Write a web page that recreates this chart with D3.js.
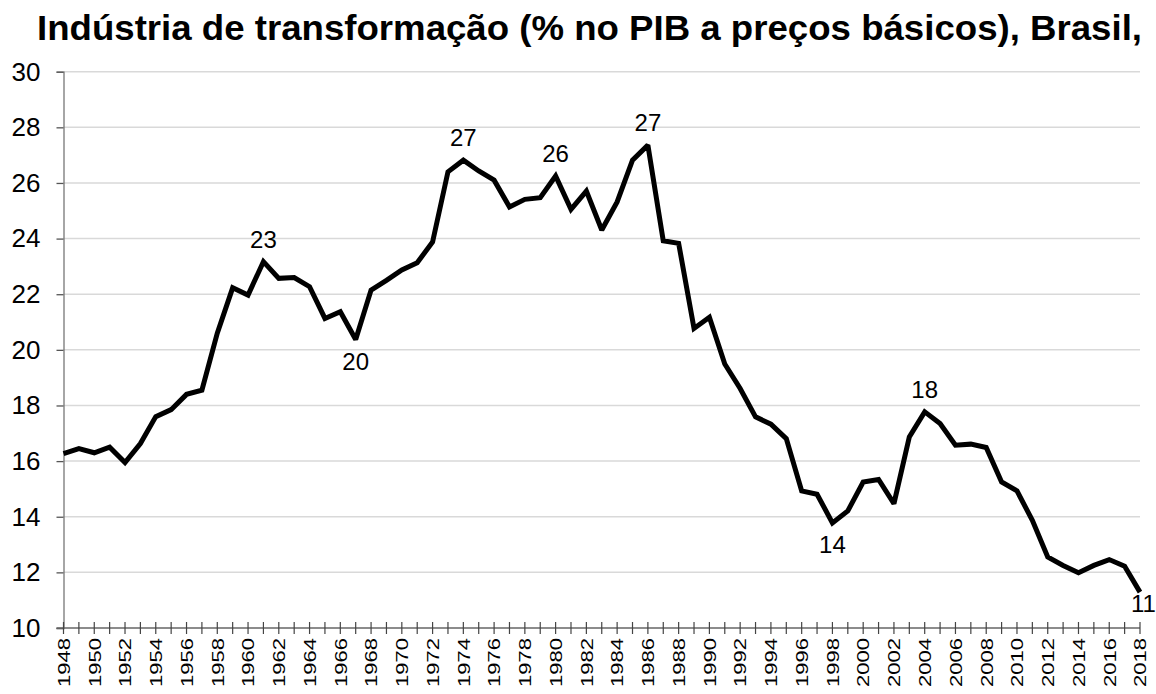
<!DOCTYPE html>
<html>
<head>
<meta charset="utf-8">
<script src="https://cdn.jsdelivr.net/npm/d3@7"></script>
<style>
  body { margin: 0; background: #fff; }
  svg { display: block; font-family: "Liberation Sans", Arial, sans-serif; }
</style>
</head>
<body>
<div id="chart"></div>
<script>
const years = d3.range(1948, 2019);
const share = [
  16.27, 16.45, 16.3, 16.5, 15.95, 16.63, 17.6, 17.85, 18.4, 18.55,
  20.6, 22.23, 21.97, 23.17, 22.57, 22.6, 22.27, 21.13, 21.37, 20.37,
  22.15, 22.5, 22.87, 23.13, 23.88, 26.4, 26.82, 26.43, 26.1, 25.14,
  25.41, 25.47, 26.25, 25.05, 25.71, 24.31, 25.32, 26.82, 27.36, 23.92,
  23.83, 20.77, 21.17, 19.49, 18.61, 17.59, 17.33, 16.81, 14.93, 14.81,
  13.78, 14.21, 15.25, 15.34, 14.47, 16.87, 17.77, 17.35, 16.57, 16.61,
  16.49, 15.25, 14.93, 13.87, 12.55, 12.25, 11.99, 12.25, 12.46, 12.22,
  11.29
];
const yTicks = [10, 12, 14, 16, 18, 20, 22, 24, 26, 28, 30];
// rounded values written next to the peaks and troughs
const callouts = [
  { year: 1961, text: "23", pos: "above" },
  { year: 1967, text: "20", pos: "below" },
  { year: 1974, text: "27", pos: "above" },
  { year: 1980, text: "26", pos: "above" },
  { year: 1986, text: "27", pos: "above" },
  { year: 1998, text: "14", pos: "below" },
  { year: 2004, text: "18", pos: "above" },
  { year: 2018, text: "11", pos: "belowright" }
];

const width = 1156, height = 694;
const margin = { left: 63.5, right: 16, top: 71.7, bottom: 66 };

const svg = d3.select("#chart").append("svg")
  .attr("width", width)
  .attr("height", height);

const x = d3.scaleLinear().domain([1948, 2018]).range([margin.left, width - margin.right]);
const y = d3.scaleLinear().domain([10, 30]).range([height - margin.bottom, margin.top]);

// title (the source image cuts it after "Brasil,")
svg.append("text")
  .attr("x", 37)
  .attr("y", 40)
  .attr("font-size", 35)
  .attr("font-weight", "bold")
  .attr("fill", "#000")
  .attr("textLength", 1105)
  .attr("lengthAdjust", "spacingAndGlyphs")
  .text("Indústria de transformação (% no PIB a preços básicos), Brasil,");

// gridlines
svg.append("g")
  .selectAll("line")
  .data(yTicks.filter(d => d > 10))
  .join("line")
  .attr("x1", margin.left)
  .attr("x2", width - margin.right)
  .attr("y1", d => y(d))
  .attr("y2", d => y(d))
  .attr("stroke", "#d9d9d9")
  .attr("stroke-width", 1.5);

// y axis
const yAxis = svg.append("g")
  .attr("transform", `translate(${margin.left},0)`)
  .call(d3.axisLeft(y).tickValues(yTicks).tickSize(7).tickPadding(16).tickFormat(d3.format("d")));
yAxis.select(".domain").attr("stroke", "#777").attr("stroke-width", 1.3);
yAxis.selectAll(".tick line").attr("stroke", "#555").attr("stroke-width", 1.3);
yAxis.selectAll("text")
  .attr("font-size", 26)
  .attr("fill", "#000")
  .style("font-family", "'Liberation Sans', Arial, sans-serif");

// x axis: tick every year, crossing the axis line, label every 2 years
const xAxis = svg.append("g")
  .attr("transform", `translate(0,${y(10)})`);
xAxis.append("line")
  .attr("x1", margin.left - 7)
  .attr("x2", width - margin.right)
  .attr("stroke", "#666")
  .attr("stroke-width", 1.3);
xAxis.selectAll("line.tk")
  .data(years)
  .join("line")
  .attr("class", "tk")
  .attr("x1", d => x(d))
  .attr("x2", d => x(d))
  .attr("y1", -6)
  .attr("y2", 6)
  .attr("stroke", "#444")
  .attr("stroke-width", 1.2);
xAxis.selectAll("text")
  .data(years.filter(d => d % 2 === 0))
  .join("text")
  .attr("transform", d => `translate(${x(d) + 6.3},${10}) rotate(-90) scale(1,0.78)`)
  .attr("text-anchor", "end")
  .attr("font-size", 22)
  .attr("fill", "#000")
  .text(d => d);

// series line
const line = d3.line()
  .x((d, i) => x(years[i]))
  .y(d => y(d));

svg.append("path")
  .datum(share)
  .attr("d", line)
  .attr("fill", "none")
  .attr("stroke", "#000")
  .attr("stroke-width", 5)
  .attr("stroke-linejoin", "miter")
  .attr("stroke-miterlimit", 2);

// callout labels
svg.append("g")
  .selectAll("text")
  .data(callouts)
  .join("text")
  .attr("x", d => d.pos === "belowright" ? x(d.year) - 9 : x(d.year))
  .attr("y", d => {
    const v = share[years.indexOf(d.year)];
    if (d.pos === "above") return y(v) - 14;
    if (d.pos === "below") return y(v) + 30;
    return y(v) + 20;
  })
  .attr("text-anchor", d => d.pos === "belowright" ? "start" : "middle")
  .attr("font-size", 24)
  .attr("fill", "#000")
  .text(d => d.text);
</script>
</body>
</html>
